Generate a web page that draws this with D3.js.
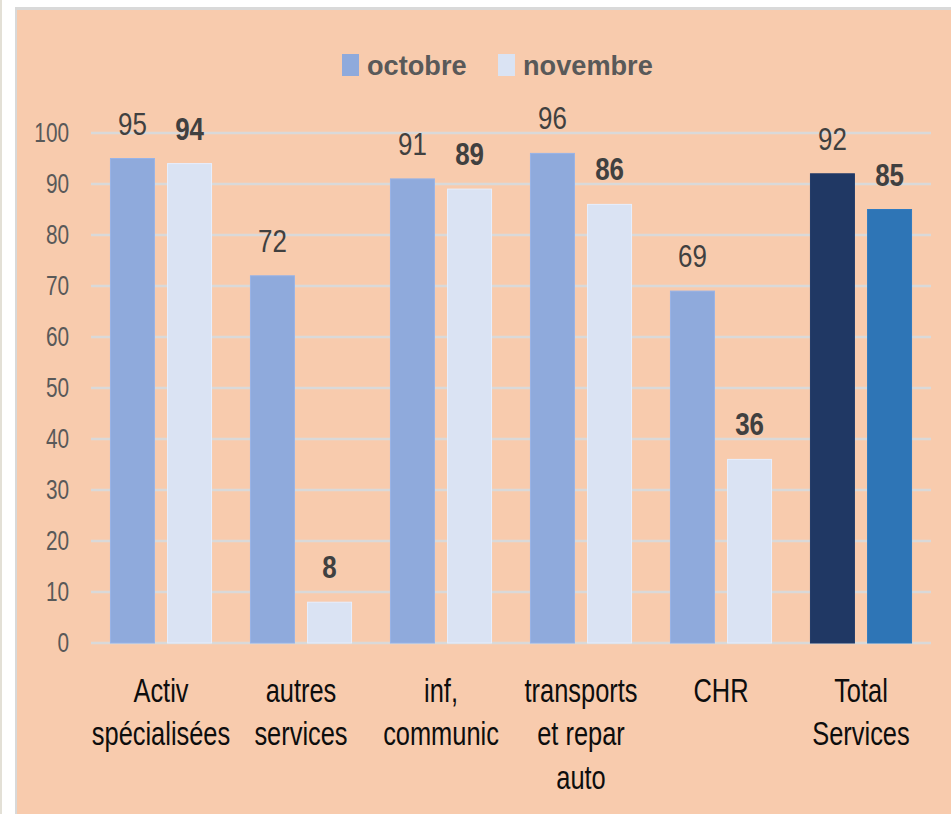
<!DOCTYPE html>
<html>
<head>
<meta charset="utf-8">
<script src="https://cdn.jsdelivr.net/npm/d3@7"></script>
<style>
  body { margin: 0; background: #ffffff; }
  svg text { font-family: "Liberation Sans", Arial, sans-serif; }
</style>
</head>
<body>
<div id="chart"></div>
<script>
// données
const categories = ["Activ spécialisées", "autres services", "inf, communic", "transports et repar auto", "CHR", "Total Services"];
const categoryLines = [["Activ", "spécialisées"], ["autres", "services"], ["inf,", "communic"], ["transports", "et repar", "auto"], ["CHR"], ["Total", "Services"]];
const octobre = [95, 72, 91, 96, 69, 92];
const novembre = [94, 8, 89, 86, 36, 85];
const seriesNames = ["octobre", "novembre"];
const yTicks = [0, 10, 20, 30, 40, 50, 60, 70, 80, 90, 100];

const W = 951, H = 814;
const sx = 0.77; // compression horizontale du texte (police étroite)

const svg = d3.select("#chart").append("svg")
  .attr("width", W)
  .attr("height", H);

// cadre
svg.append("rect").attr("x", 0).attr("y", 0).attr("width", 2).attr("height", H).attr("fill", "#e3e0d6");
svg.append("rect").attr("x", 15).attr("y", 7).attr("width", W - 15).attr("height", H - 7).attr("fill", "#d9d9d9");
svg.append("rect").attr("x", 17).attr("y", 10).attr("width", W - 17).attr("height", H - 10).attr("fill", "#f8cbad");

const plotLeft = 91, plotRight = 931;
const y = d3.scaleLinear().domain([0, 100]).range([643, 133]);
const x0 = d3.scaleBand().domain(categories).range([plotLeft, plotRight]).paddingInner(0.278).paddingOuter(0.139);
const x1 = d3.scaleBand().domain(seriesNames).range([0, x0.bandwidth()]).paddingInner(0.23);

// grille
svg.append("g").selectAll("line").data(yTicks).join("line")
  .attr("x1", plotLeft).attr("x2", plotRight)
  .attr("y1", d => y(d)).attr("y2", d => y(d))
  .attr("stroke", "#d9d9d9").attr("stroke-width", 2.5);

// axe Y
const yAxis = d3.axisLeft(y).tickValues(yTicks).tickSize(0).tickPadding(0);
const gy = svg.append("g").attr("transform", `translate(${plotLeft},0)`).call(yAxis);
gy.select(".domain").remove();
gy.selectAll("text")
  .attr("x", -22 / sx)
  .attr("transform", `scale(${sx},1)`)
  .attr("fill", "#595959")
  .style("font-size", "27px")
  .style("font-family", '"Liberation Sans", Arial, sans-serif');

const colors = {
  octobre: d => d === "Total Services" ? "#203864" : "#8faadc",
  novembre: d => d === "Total Services" ? "#2e75b6" : "#dae3f3"
};

const rows = categories.map((c, i) => ({ cat: c, octobre: octobre[i], novembre: novembre[i] }));

seriesNames.forEach(s => {
  svg.append("g").selectAll("rect").data(rows).join("rect")
    .attr("x", d => x0(d.cat) + x1(s))
    .attr("y", d => y(d[s]))
    .attr("width", x1.bandwidth())
    .attr("height", d => y(0) - y(d[s]))
    .attr("fill", d => colors[s](d.cat))
    .attr("stroke", d => d3.color(colors[s](d.cat)).brighter(0.15))
    .attr("stroke-width", 1);

  svg.append("g").selectAll("text").data(rows).join("text")
    .attr("transform", d => `translate(${x0(d.cat) + x1(s) + x1.bandwidth() / 2},${y(d[s]) - 24}) scale(0.81,1)`)
    .attr("text-anchor", "middle")
    .attr("fill", "#404040")
    .style("font-size", "32px")
    .style("font-weight", s === "novembre" ? "bold" : "normal")
    .text(d => d[s]);
});

// étiquettes des catégories
const catG = svg.append("g");
categories.forEach((c, i) => {
  const t = catG.append("text")
    .attr("transform", `translate(${x0(c) + x0.bandwidth() / 2},0) scale(${sx},1)`)
    .attr("text-anchor", "middle")
    .attr("fill", "#0d0d0d")
    .style("font-size", "33px");
  categoryLines[i].forEach((l, j) => {
    t.append("tspan").attr("x", 0).attr("y", 702 + j * 43.5).text(l);
  });
});

// légende
const legend = svg.append("g");
const legendX = [342, 498];
const legendColors = ["#8faadc", "#dae3f3"];
seriesNames.forEach((s, i) => {
  legend.append("rect")
    .attr("x", legendX[i]).attr("y", 54)
    .attr("width", 17).attr("height", 22)
    .attr("fill", legendColors[i]);
  legend.append("text")
    .attr("transform", `translate(${legendX[i] + 25},75) scale(0.97,1)`)
    .attr("fill", "#595959")
    .style("font-size", "28px")
    .style("font-weight", "bold")
    .text(s);
});
</script>
</body>
</html>
